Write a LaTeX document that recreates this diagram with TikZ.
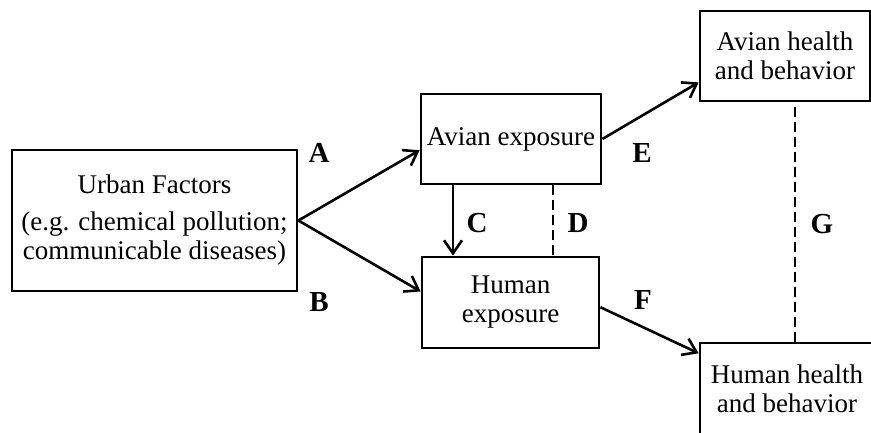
\documentclass[tikz,border=0pt]{standalone}
\usepackage{fontspec}
\setmainfont{Liberation Serif}
\usetikzlibrary{arrows.meta, shapes}
\tikzset{
	box/.style={draw, line width=2.8pt, inner sep=0pt, align=center, font=\fontsize{27}{29}\selectfont},
	lbl/.style={font=\fontsize{29}{30}\selectfont\bfseries},
	link/.style={line width=2.6pt, -{Straight Barb[length=13pt,width=18pt,line width=2.6pt]}},
	tie/.style={line width=2.6pt, dash pattern=on 10pt off 5pt}
}

\begin{document}
\begin{tikzpicture}[x=1pt, y=-1pt]
	\useasboundingbox (0,0) rectangle (871,433);
	\clip (0,0) rectangle (871,433);
	\node[box, minimum width=285pt, minimum height=141pt] (urban) at (154.5,220.5)
	{Urban Factors\\[8pt](e.g. chemical pollution;\\communicable diseases)};
	\node[box, minimum width=180pt, minimum height=90pt] (avexp) at (511,139) {Avian exposure};
	\node[box, minimum width=177pt, minimum height=91pt] (huexp) at (510.5,302.5) {Human\\exposure};
	\node[box, minimum width=170pt, minimum height=90pt] (avhealth) at (785,56) {Avian health\\and behavior};
	\node[box, minimum width=174pt, minimum height=92pt] (huhealth) at (787,389) {Human health\\and behavior};
	% arrows
	\draw[link] (urban.east) -- (avexp.187);
	\draw[link] (urban.east) -- (huexp.173);
	\draw[link] ([xshift=-58pt]avexp.south) -- ([xshift=-57.5pt]huexp.north);
	\draw[tie] ([xshift=42pt]avexp.south) -- ([xshift=42.5pt]huexp.north);
	\draw[link] (avexp.east) -- (avhealth.197);
	\draw[link] (huexp.357) -- (huhealth.158);
	\draw[tie] ([xshift=10pt,yshift=-5pt]avhealth.south) -- ([xshift=8pt]huhealth.north);
	% labels
	\node[lbl] (lblA) at (319,153) {A};
	\node[lbl] (lblB) at (319,302) {B};
	\node[lbl] (lblC) at (477,223) {C};
	\node[lbl] (lblD) at (578,223) {D};
	\node[lbl] (lblE) at (642,153) {E};
	\node[lbl] (lblF) at (643,300) {F};
	\node[lbl] (lblG) at (822,224) {G};
\end{tikzpicture}
\end{document}
